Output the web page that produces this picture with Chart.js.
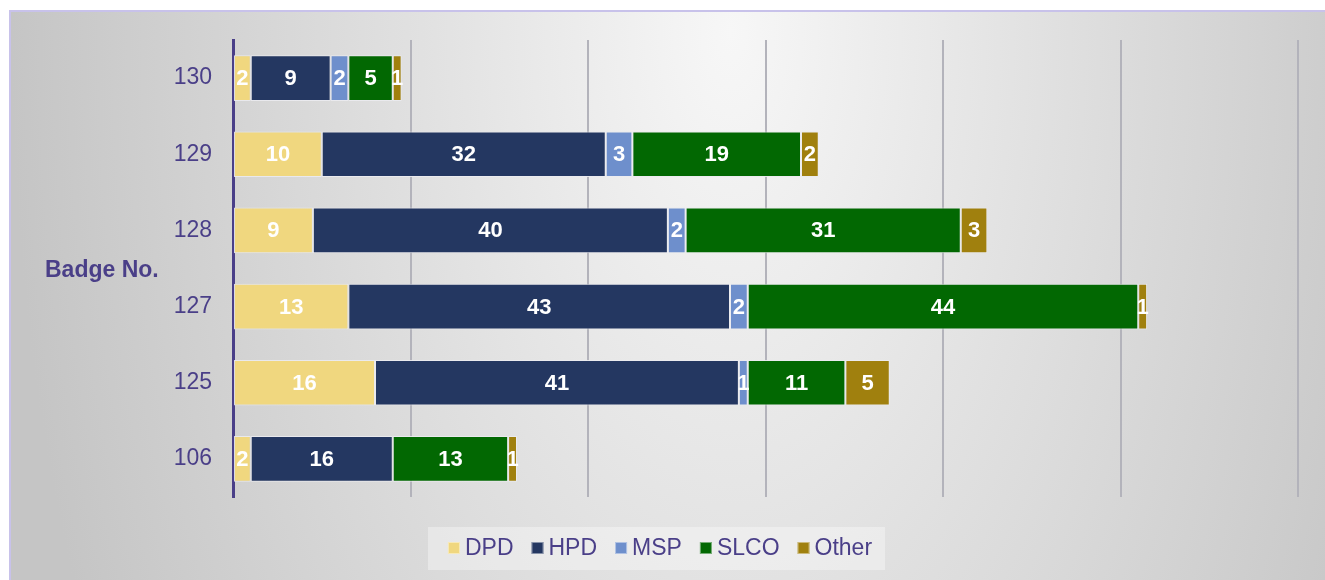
<!DOCTYPE html>
<html>
<head>
<meta charset="utf-8">
<script src="https://cdn.jsdelivr.net/npm/chart.js@4.4.1/dist/chart.umd.min.js"></script>
<style>
  html, body { margin: 0; padding: 0; background: #ffffff; }
  #panel {
    position: absolute; left: 9px; top: 10px; width: 1316px; height: 570px;
    border-top: 2px solid #c8c2ea; border-left: 2px solid #c8c2ea; box-sizing: border-box;
    background: radial-gradient(ellipse 720px 1350px at 720px 20px, #f7f7f7 0%, #e0e0e0 45%, #c5c5c5 100%);
  }
  #wrap { position: absolute; left: 0; top: 0; width: 1325px; height: 580px; }
</style>
</head>
<body>
<div id="panel"></div>
<div id="wrap"><canvas id="badgeChart" width="1325" height="580"></canvas></div>
<script>
// ─── Badge No. stacked bars ───
const badges = ['130', '129', '128', '127', '125', '106'];
const dpd    = [2, 10, 9, 13, 16, 2];
const hpd    = [9, 32, 40, 43, 41, 16];
const msp    = [2, 3, 2, 2, 1, 0];
const slco   = [5, 19, 31, 44, 11, 13];
const other  = [1, 2, 3, 1, 5, 1];
const xTicks = [0, 20, 40, 60, 80, 100, 120];

const purple = '#4a3f88';
const FONT   = '"Liberation Sans", Arial, sans-serif';

function mk(label, data, color) {
    return {
        label: label,
        data: data,
        backgroundColor: color,
        borderColor: 'rgba(235,235,240,0.9)',
        borderWidth: 1,
        borderSkipped: false,
        barPercentage: 0.6,
        categoryPercentage: 1.0
    };
}

// white numbers in the middle of each piece
const barValues = {
    id: 'barValues',
    afterDatasetsDraw(chart) {
        const ctx = chart.ctx;
        ctx.save();
        ctx.fillStyle = '#ffffff';
        ctx.font = 'bold 22px ' + FONT;
        ctx.textAlign = 'center';
        ctx.textBaseline = 'middle';
        chart.data.datasets.forEach(function(ds, i) {
            chart.getDatasetMeta(i).data.forEach(function(bar, j) {
                const v = ds.data[j];
                if (!v) return;
                const cx = (bar.x + bar.base) / 2;
                ctx.fillText(String(v), cx, bar.y + 1);
            });
        });
        ctx.restore();
    }
};

// horizontal axis title + legend (drawn by hand, tighter than the built-in one)
const extras = {
    id: 'extras',
    afterDraw(chart) {
        const ctx = chart.ctx;
        const a = chart.chartArea;
        ctx.save();
        ctx.fillStyle = purple;
        ctx.font = 'bold 23px ' + FONT;
        ctx.textAlign = 'left';
        ctx.textBaseline = 'middle';
        ctx.fillText('Badge No.', 45, (a.top + a.bottom) / 2 + 2);

        // legend
        ctx.font = '23px ' + FONT;
        const box = 12, gap = 5, step = 18, cy = 548;
        const items = chart.data.datasets.map(function(ds) {
            return { label: ds.label, color: ds.backgroundColor, w: ctx.measureText(ds.label).width };
        });
        let total = 0;
        items.forEach(function(it, i) { total += box + gap + it.w + (i ? step : 0); });
        let x = 660 - total / 2;
        ctx.fillStyle = 'rgba(255,255,255,0.35)';
        ctx.fillRect(x - 20, 527, total + 33, 43);
        items.forEach(function(it) {
            ctx.fillStyle = it.color;
            ctx.fillRect(x, cy - box / 2, box, box);
            ctx.strokeStyle = 'rgba(255,255,255,0.45)';
            ctx.lineWidth = 1;
            ctx.strokeRect(x + 0.5, cy - box / 2 + 0.5, box - 1, box - 1);
            ctx.fillStyle = purple;
            ctx.fillText(it.label, x + box + gap, cy + 1);
            x += box + gap + it.w + step;
        });
        ctx.restore();
    }
};

const ctx = document.getElementById('badgeChart').getContext('2d');
new Chart(ctx, {
    type: 'bar',
    data: {
        labels: badges,
        datasets: [
            mk('DPD', dpd, '#f0d77f'),
            mk('HPD', hpd, '#243761'),
            mk('MSP', msp, '#6e8fcc'),
            mk('SLCO', slco, '#026802'),
            mk('Other', other, '#a0800e')
        ]
    },
    options: {
        indexAxis: 'y',
        responsive: false,
        animation: false,
        layout: { padding: { top: 40, right: 27, bottom: 83, left: 0 } },
        plugins: {
            tooltip: { enabled: false },
            legend: { display: false }
        },
        scales: {
            x: {
                stacked: true,
                min: xTicks[0],
                max: xTicks[xTicks.length - 1],
                afterBuildTicks: function(s) { s.ticks = xTicks.map(function(v) { return { value: v }; }); },
                ticks: { display: false },
                grid: { color: '#b3b3bb', lineWidth: 2, drawTicks: false },
                border: { display: false },
                afterFit: function(s) { s.height = 0; }
            },
            y: {
                stacked: true,
                grid: { display: false },
                border: { display: true, color: purple, width: 3 },
                ticks: {
                    color: purple,
                    padding: 13,
                    font: { size: 23, family: FONT }
                },
                afterFit: function(s) { s.width = 233; }
            }
        }
    },
    plugins: [barValues, extras]
});
</script>
</body>
</html>
